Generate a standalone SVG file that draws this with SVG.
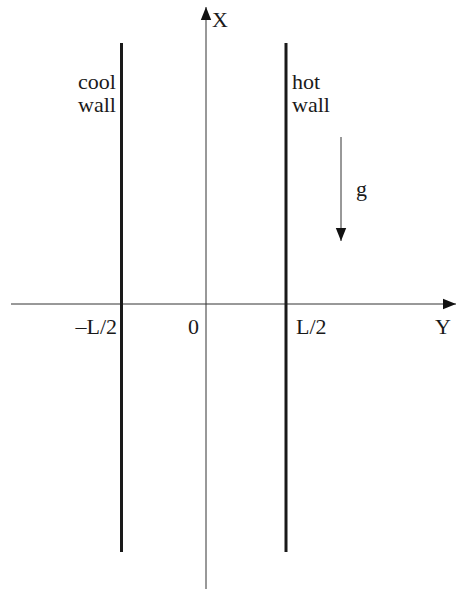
<svg xmlns="http://www.w3.org/2000/svg" width="456" height="590" viewBox="0 0 456 590">
<style>
.t{font-family:"Liberation Serif","Times New Roman",serif;font-size:22px;fill:#1a1a1a}
.ax{stroke:#333;stroke-width:1;fill:none}
.wall{stroke:#1a1a1a;stroke-width:3;fill:none}
</style>
<defs>
<marker id="ah" markerWidth="13" markerHeight="12" refX="13" refY="6" orient="auto" markerUnits="userSpaceOnUse">
<path d="M0,0.8 L13,6 L0,11.2 Z" fill="#111"/>
</marker>
</defs>
<g id="connectors">
<line class="ax" x1="206" y1="589" x2="206" y2="7" marker-end="url(#ah)"/>
<line class="ax" x1="11" y1="304" x2="456" y2="304" marker-end="url(#ah)"/>
<line class="ax" x1="341" y1="137" x2="341" y2="241" marker-end="url(#ah)"/>
</g>
<g id="cool-wall">
<line class="wall" x1="121.5" y1="43" x2="121.5" y2="552"/>
<text class="t" x="116" y="89" text-anchor="end">cool</text>
<text class="t" x="116" y="112" text-anchor="end">wall</text>
</g>
<g id="hot-wall">
<line class="wall" x1="286" y1="43" x2="286" y2="552"/>
<text class="t" x="292" y="89">hot</text>
<text class="t" x="292" y="112">wall</text>
</g>
<g id="labels">
<text class="t" x="212" y="27">X</text>
<text class="t" x="435" y="334">Y</text>
<text class="t" x="117" y="334" text-anchor="end">–L/2</text>
<text class="t" x="199" y="334" text-anchor="end">0</text>
<text class="t" x="296" y="334">L/2</text>
<text class="t" x="356" y="196">g</text>
</g>
</svg>
